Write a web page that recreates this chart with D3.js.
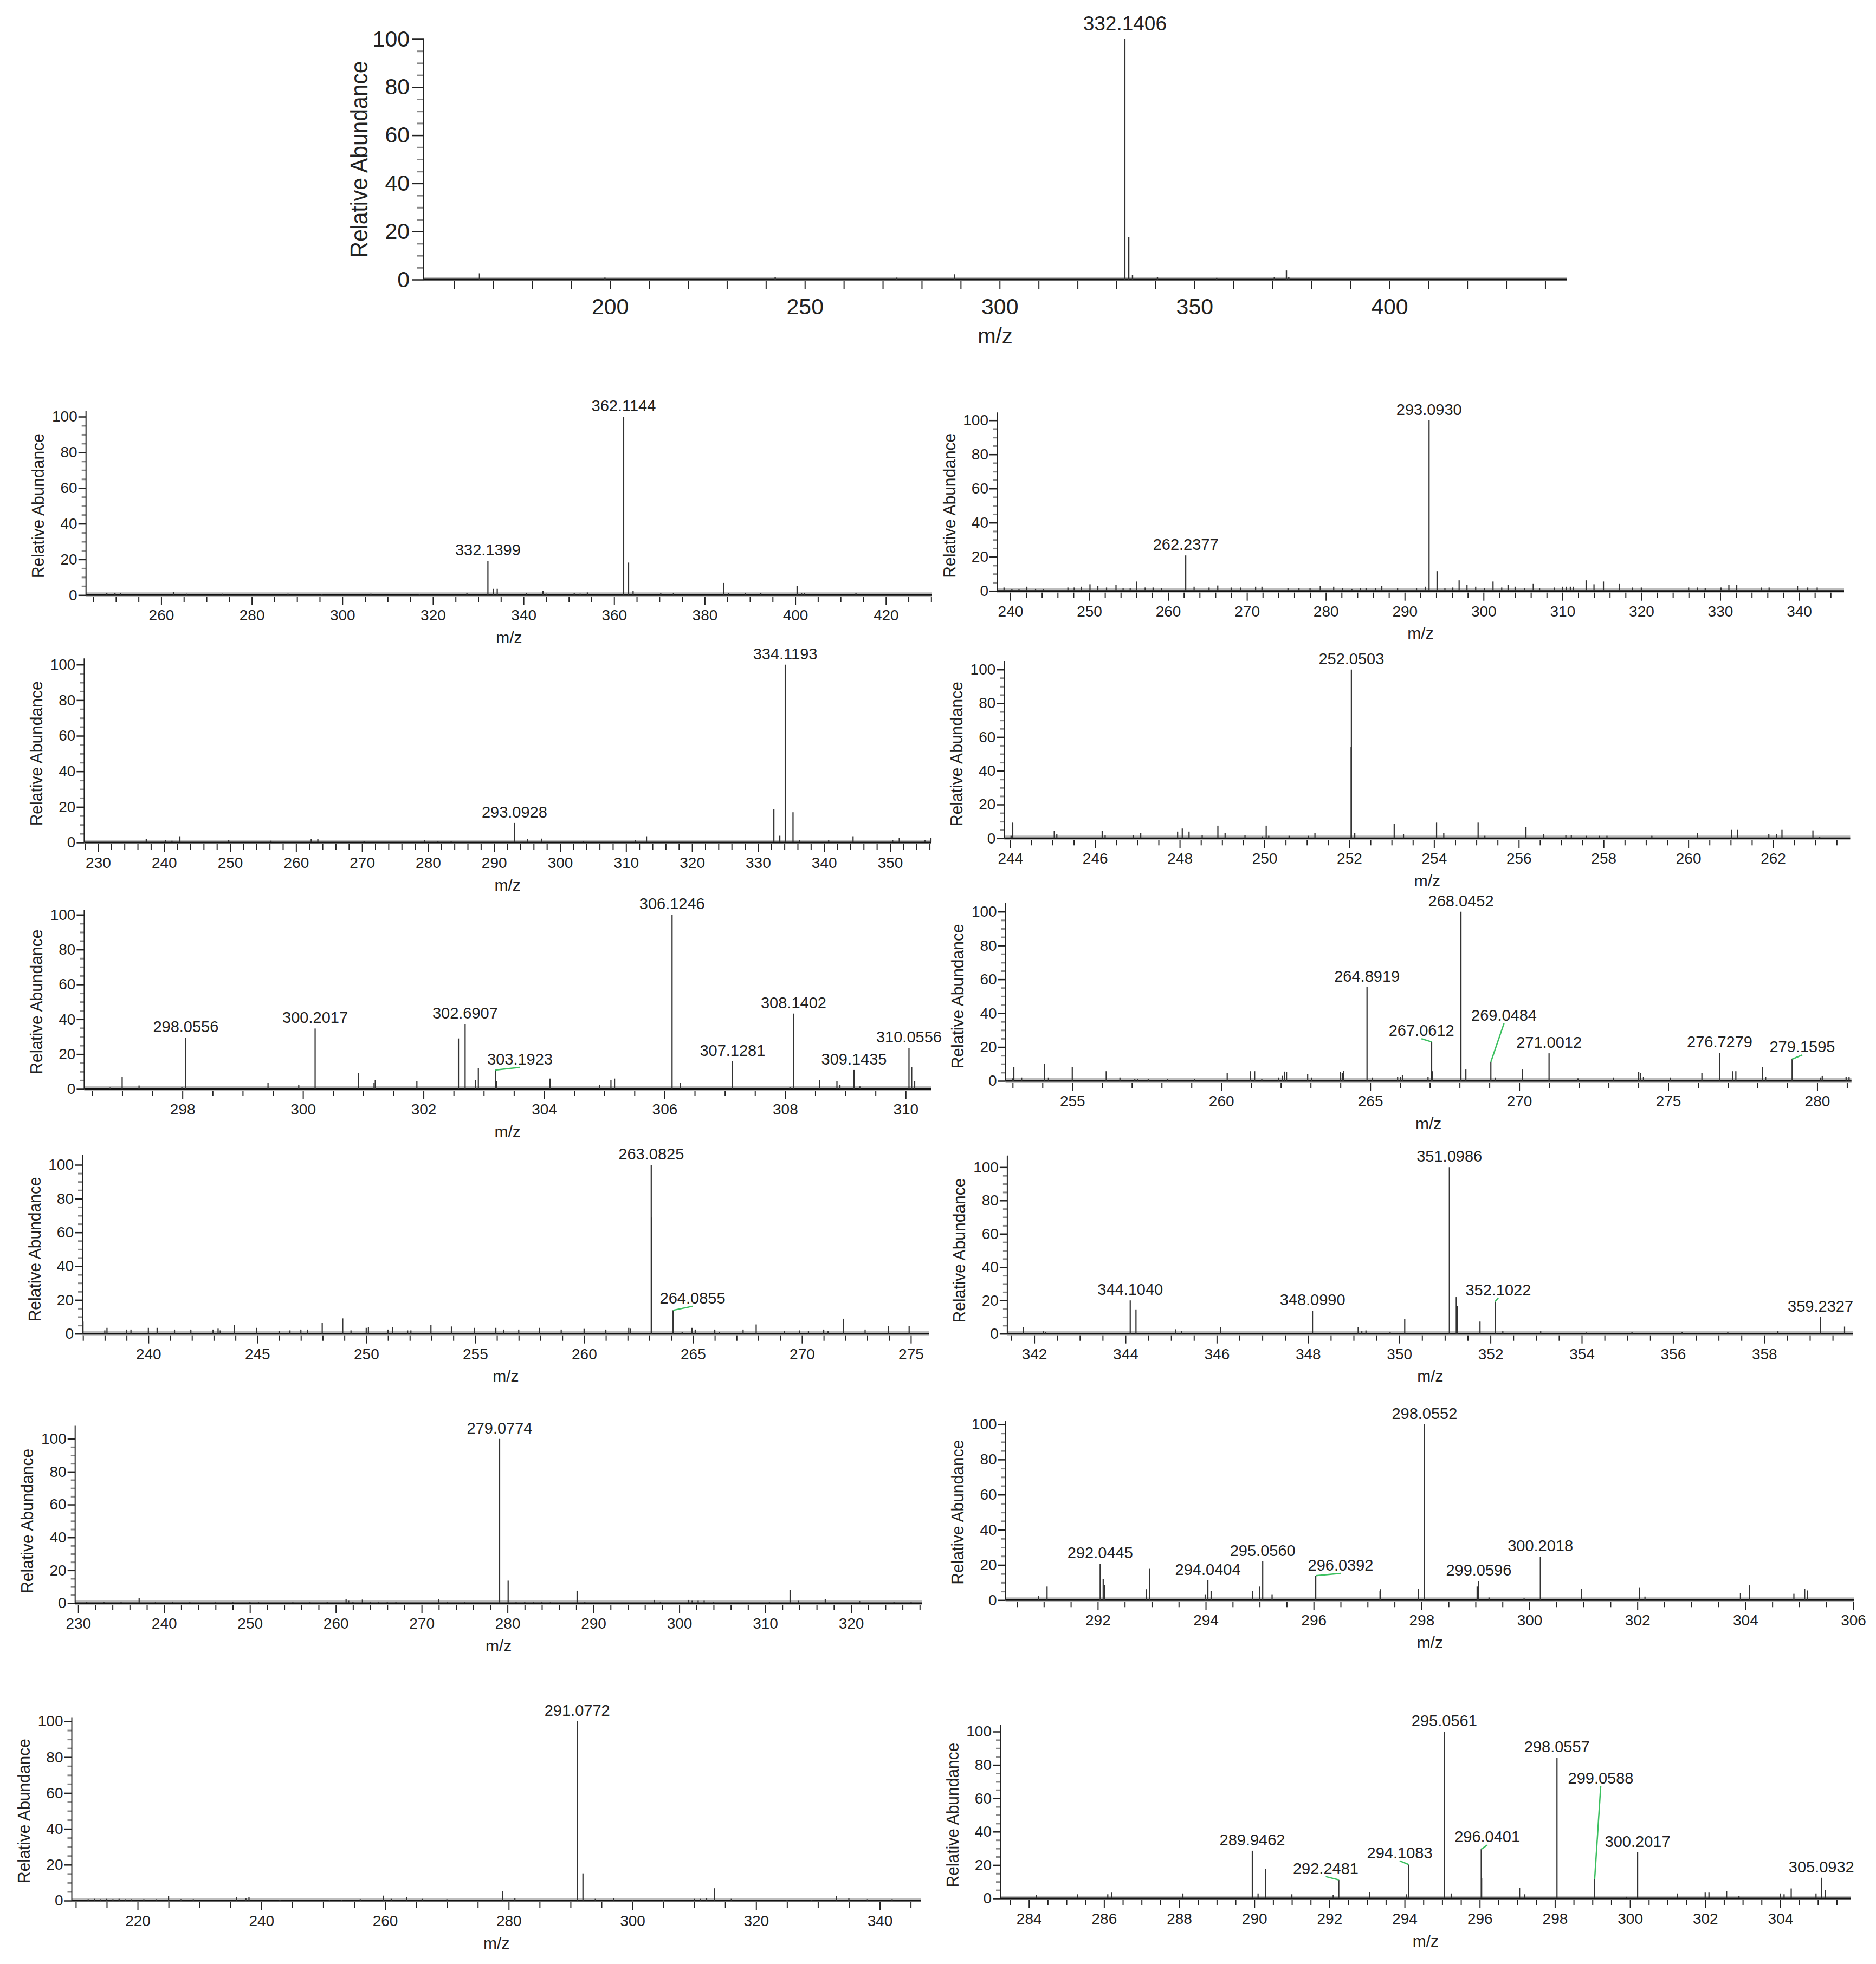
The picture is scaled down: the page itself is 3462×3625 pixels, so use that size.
<!DOCTYPE html>
<html>
<head>
<meta charset="utf-8">
<script src="https://cdn.jsdelivr.net/npm/d3@7"></script>
<style>
body { margin: 0; background: #fff; }
svg text { font-family: "Liberation Sans", Arial, sans-serif; fill: #222; }
</style>
</head>
<body>
<div id="container"></div>
<script>
// peak lists: [m/z, relative abundance]
const peaksA = [[166.5,2.6],[198.7,0.8],[242.4,1],[273.6,0.8],[288.4,2.2],[332.1406,100],[333.14,17.7],[334.1,1.9],[340.5,1],[355.7,0.7],[370.5,1],[373.6,3.8],[374.2,1]];
const peaksB = [[248.0,1],[249.8,1.3],[251.0,1],[262.7,1.7],[265.6,0.8],[273.5,0.8],[288.0,0.8],[295.5,0.6],[306.3,0.8],[317,0.6],[327.5,1],[332.1399,19.2],[333.3,3.5],[334.2,3.5],[340.6,1.3],[344.3,2.5],[345,0.8],[351.2,1],[352.5,0.8],[354.1,1.5],[362.1144,100],[363.2,18.2],[364.2,2.5],[370.3,1],[373.1,1],[384.2,6.8],[385.3,1],[389,1],[392.4,1],[400.4,5.1],[401.4,1.2],[402,1],[413.4,1]];
const peaksC = [[239.2,2],[240.2,1],[241.1,1],[242.1,2.5],[243.2,1.2],[244.2,1],[247.3,2],[248.1,2],[249,2.5],[250.1,3.9],[251.1,3],[252.2,2],[253.4,3.4],[254.3,1.8],[255.2,1.5],[256,5.5],[257.1,2],[258.1,2],[259.2,1.5],[262.2377,20.8],[263.3,2.5],[265.2,2],[266.3,3.2],[268,2],[269.2,2],[271.1,2.5],[271.9,2.5],[275.2,1.5],[276.6,1.8],[278,1.8],[279.3,3],[281,2.5],[282.1,1.5],[283.3,1.2],[284.4,1.8],[285.1,1.8],[286.3,1.5],[287.1,3],[289.1,1.5],[291.5,1.5],[292.6,2.5],[293.093,100],[294.1,11.6],[295.1,1.5],[296.1,2],[296.9,6.2],[297.9,3.6],[299,2.5],[300.1,1.5],[301.2,5.5],[302.3,2],[303.1,3.6],[304,2.5],[305.2,1.5],[306.3,4.4],[307.1,1.5],[309,2],[310,2.5],[310.5,2.5],[311,2.5],[311.4,2.5],[313,6.2],[314,3.9],[315.2,5.5],[317.2,4.4],[318.9,2],[320,2],[326,2],[327.1,2],[328.1,1.5],[330.1,2],[331.1,3.6],[332.1,3.6],[335.2,2],[336.2,2],[339.8,3],[341.1,2],[342.3,2]];
const peaksD = [[237.3,2],[240.2,1.5],[241.2,1],[242.4,3.5],[249.8,1.5],[256.2,1],[262.3,2],[263.3,2],[270.3,0.8],[279.5,1.5],[281.5,0.8],[283.5,0.8],[293.0928,11],[295.1,2],[297.2,2.2],[303.5,0.8],[311.4,1.5],[313.1,3.5],[332.4,18.6],[333.3,3.8],[334.1193,100],[335.3,17],[336.3,1.5],[340.7,1.5],[344.4,3.5],[350.4,1.5],[351.4,2.5],[355.3,1.2],[356.2,2.5]];
const peaksE = [[244.02,1.5],[244.06,9.3],[245.04,4.5],[245.1,2.5],[246.17,4.5],[246.24,2],[246.9,2],[247.08,3.1],[247.95,4],[248.06,5.8],[248.22,4],[248.53,2],[248.9,7.5],[249.07,3],[249.54,2],[249.95,1.2],[250.04,7.5],[250.1,1.5],[250.58,1.5],[251.03,1.5],[251.19,3.1],[252.045,54],[252.0503,100],[252.13,3],[253.06,8.6],[253.28,2.4],[254.06,9.3],[254.23,3],[255.04,9.3],[255.2,1.5],[256.17,6.6],[256.59,2.5],[257.11,2],[257.24,2],[257.6,1.5],[257.9,1.5],[258.08,1.5],[259.14,1.5],[260.22,3.1],[261.02,5],[261.16,5],[261.9,2.5],[262.08,2.5],[262.21,5],[262.94,4.7],[263.1,1]];
const peaksF = [[296.8,0.8],[297.0,7],[297.28,2],[297.99,1],[298.0556,29.5],[299.42,3.6],[299.93,2.5],[300.2017,34.7],[300.92,9.3],[301.18,3.5],[301.2,5],[301.89,4.4],[302.58,29],[302.6907,37.3],[302.86,5],[302.91,12],[303.1923,10.9],[303.21,4.5],[304.1,6],[304.92,2.5],[305.11,5],[305.17,6],[306.1246,100],[306.26,3.5],[307.1281,16],[308.08,1],[308.1402,43.3],[308.57,5],[308.86,4.4],[308.91,2.5],[309.1435,10.9],[309.24,1.5],[310.0556,23.6],[310.1,12.6],[310.15,4.5]];
const peaksG = [[253.0,1.5],[253.04,8.2],[253.3,2],[254.06,10.1],[254.2,2],[255.0,8.2],[256.14,5.7],[256.6,2],[257.1,1],[257.2,1],[257.55,1],[258.2,1],[259.1,1],[260.2,4.8],[260.98,5.7],[261.12,5.7],[261.36,1],[261.93,2],[262.05,3],[262.12,5.5],[262.19,5.3],[262.9,4],[263.04,2],[264.0,5.3],[264.06,4.5],[264.1,5.9],[264.8919,55.5],[265.07,2],[265.92,2.5],[266.02,2.5],[266.08,3.2],[266.94,2.5],[267.0612,23],[267.08,5.7],[268.0452,100],[268.21,6.7],[269.0484,11.2],[269.2,2],[270.11,6.7],[271.0012,16.3],[271.97,1.5],[273.17,2],[274.01,5.3],[274.07,4.5],[274.17,2.5],[275.07,2],[276.13,4.8],[276.7279,16.5],[277.17,5.7],[277.27,5.7],[278.17,8.2],[278.27,2.5],[279.1595,12.8],[280.12,2],[280.17,2.9],[280.97,2.5],[281.07,2.5]];
const peaksH = [[237.0,7.2],[238.0,2],[238.1,3.5],[239.0,2.5],[239.2,2.5],[240.0,3.5],[240.4,3.5],[241.2,2.5],[241.95,2.5],[242.97,2.5],[243.2,3],[243.3,2],[243.95,5.3],[244.97,3.5],[246.0,1.5],[246.5,2],[247.0,2.5],[247.3,2.5],[247.98,6.4],[248.92,9.1],[249.3,2],[250.0,3.5],[250.1,4],[251.0,2.5],[251.2,4],[251.9,2],[252.05,2],[252.97,5.3],[253.91,4.3],[254.96,3.5],[255.95,3.5],[256.3,2.5],[257.0,2.5],[257.95,3.5],[258.95,2.5],[260.0,2.9],[261.0,2.5],[262.05,3.5],[262.13,3],[263.0825,100],[263.1,68.8],[264.0855,13.9],[264.5,1],[264.95,3.5],[265.1,2.5],[266.0,2.5],[266.2,1],[267.3,2.5],[267.9,5.5],[269.2,1.5],[269.9,2],[270.3,1.5],[271.0,2.5],[271.2,1.5],[271.9,8.9],[272.9,2.5],[273.98,4.5],[274.92,4.5]];
const peaksI = [[341.76,3.8],[342.2,1.5],[342.25,1],[344.104,20],[344.23,14.6],[345.1,2.7],[345.23,1.8],[346.08,4.1],[348.099,13.8],[349.1,3.8],[349.18,1.5],[349.27,2],[349.8,1],[350.12,9],[351.0986,100],[351.25,22],[351.27,16.6],[351.77,7.3],[352.1022,19.3],[352.27,1.5],[353.1,1.5],[354.1,0.8],[355.1,1],[356.2,1],[357.2,1],[358.3,1.5],[359.2327,10.1],[359.76,4.3]];
const peaksJ = [[231,0.7],[233,0.7],[235,0.7],[237.1,3],[239,0.7],[241,1],[243,0.7],[246,0.6],[248,0.7],[250,0.8],[251,0.8],[255,0.6],[257,0.6],[259,0.7],[261.2,2.5],[261.5,1.5],[262,1],[263.1,2.2],[264,1],[265,1],[266,0.8],[267,1],[272,2.3],[273,1],[275,0.7],[279.0774,100],[280.07,13.7],[281,0.8],[282,0.8],[283,0.8],[284,0.8],[285,0.8],[288.1,7.6],[289,1],[297.1,2],[297.8,1],[301.1,2],[301.5,1.5],[302.2,1.5],[302.9,1.5],[304,0.8],[310.5,0.8],[312.9,8.2],[313.9,1.5],[317,2.3],[321,1.3],[325,0.7],[327,0.7]];
const peaksK = [[290.9,2.5],[291.06,7.7],[292.0445,20.6],[292.1,12.1],[292.13,8.7],[292.9,6.2],[292.96,17.8],[293.99,3],[294.0404,11.3],[294.1,5.1],[294.87,5.1],[295.0,7.7],[295.056,22.1],[295.23,3],[296.03,8.7],[296.0392,13.9],[297.23,5],[297.24,6.2],[297.94,6.4],[298.0552,100],[299.03,7.7],[299.0596,10.8],[299.25,1.5],[299.9,1],[300.2018,24.7],[300.96,6.4],[302.04,7],[302.14,2],[303.91,4.1],[304.08,8.4],[304.9,3.6],[305.1,6.4],[305.15,5.5]];
const peaksL = [[212,0.8],[213,1],[214,0.8],[215,1],[216,0.8],[217,1],[218,0.8],[219,0.8],[221,0.8],[223,0.8],[225,2.6],[227,0.8],[229,0.8],[236,2],[237.5,1.2],[238,2],[243,0.6],[251,0.6],[253,0.6],[256,0.8],[259.7,2.8],[261,1],[263.5,2],[266,1],[270,0.8],[279,5.3],[281,1.5],[291.0772,100],[292,15.2],[294,1],[297,1.5],[300,0.6],[305,0.6],[310,1],[311,1],[312,1.5],[313.3,6.9],[316,1],[325,0.6],[329,0.6],[333,2.6],[335,1.2],[338,0.8],[342,0.8]];
const peaksM = [[284.2,2],[285.3,2.5],[286.1,2.5],[286.2,3.5],[288.1,3],[289.9462,28.6],[290.1,3],[290.3,17.6],[291,2.5],[292.1,2],[292.2481,11.1],[293.07,3.8],[294.05,2.5],[294.1083,20.3],[295.0561,100],[295.06,52],[295.24,3],[296.0401,29.5],[296.05,12.2],[297.06,6.3],[297.2,2.5],[298.0557,84.4],[299.0588,11.7],[299.9,1],[300.2017,27.7],[301.26,3],[302.0,3.5],[302.1,3.5],[302.57,4.5],[302.9,1.5],[304.0,3],[304.1,2.5],[304.29,6],[304.95,3],[305.0932,12.4],[305.2,5]];

// peak labels: [m/z, abundance, text, label m/z, label abundance] (last two only where a leader is drawn)
const labelsA = [[332.1406,100,"332.1406"]];
const labelsB = [[362.1144,100,"362.1144"],[332.1399,19.2,"332.1399"]];
const labelsC = [[293.0930,100,"293.0930"],[262.2377,20.8,"262.2377"]];
const labelsD = [[334.1193,100,"334.1193"],[293.0928,11,"293.0928"]];
const labelsE = [[252.0503,100,"252.0503"]];
const labelsF = [[306.1246,100,"306.1246"],[298.0556,29.5,"298.0556"],[300.2017,34.7,"300.2017"],[302.6907,37.3,"302.6907"],[303.1923,10.9,"303.1923",303.6,12.4],[307.1281,16,"307.1281"],[308.1402,43.3,"308.1402"],[309.1435,10.9,"309.1435"],[310.0556,23.6,"310.0556"]];
const labelsG = [[268.0452,100,"268.0452"],[264.8919,55.5,"264.8919"],[267.0612,23,"267.0612",266.72,24.9],[269.0484,11.2,"269.0484",269.49,34],[271.0012,16.3,"271.0012"],[276.7279,16.5,"276.7279"],[279.1595,12.8,"279.1595",279.5,15.3]];
const labelsH = [[263.0825,100,"263.0825"],[264.0855,13.9,"264.0855",264.98,16.3]];
const labelsI = [[351.0986,100,"351.0986"],[344.1040,20,"344.1040"],[348.0990,13.8,"348.0990"],[352.1022,19.3,"352.1022",352.17,21.5],[359.2327,10.1,"359.2327"]];
const labelsJ = [[279.0774,100,"279.0774"]];
const labelsK = [[298.0552,100,"298.0552"],[292.0445,20.6,"292.0445"],[294.0404,11.3,"294.0404"],[295.0560,22.1,"295.0560"],[296.0392,13.9,"296.0392",296.5,15.2],[299.0596,10.8,"299.0596"],[300.2018,24.7,"300.2018"]];
const labelsL = [[291.0772,100,"291.0772"]];
const labelsM = [[295.0561,100,"295.0561"],[298.0557,84.4,"298.0557"],[289.9462,28.6,"289.9462"],[292.2481,11.1,"292.2481",291.9,13.1],[294.1083,20.3,"294.1083",293.87,22.5],[296.0401,29.5,"296.0401",296.2,32],[299.0588,11.7,"299.0588",299.22,67.3],[300.2017,27.7,"300.2017"],[305.0932,12.4,"305.0932"]];

const yTicks = [0,20,40,60,80,100];

// panel layout (pixels) and axis ranges
const panels = [
  {peaks:peaksA, labels:labelsA, domain:[152.2,445.5], xr:[782,2891], yr:[516,72], yTop:100, minor:10, major:50, big:true},
  {peaks:peaksB, labels:labelsB, domain:[243.4,430.2], xr:[158.7,1720], yr:[1098.3,769], yTop:103, minor:5, major:20},
  {peaks:peaksC, labels:labelsC, domain:[238.32,345.7], xr:[1840,3403], yr:[1090.7,775.7], yTop:104.6, minor:2, major:10},
  {peaks:peaksD, labels:labelsD, domain:[227.9,356.2], xr:[155.4,1718], yr:[1555,1226.7], yTop:103.5, minor:2, major:10},
  {peaks:peaksE, labels:labelsE, domain:[243.86,263.82], xr:[1853.3,3414.4], yr:[1547.3,1235.7], yTop:105, minor:0.5, major:2},
  {peaks:peaksF, labels:labelsF, domain:[296.37,310.42], xr:[155.4,1718], yr:[2010,1688.3], yTop:102.6, minor:0.5, major:2},
  {peaks:peaksG, labels:labelsG, domain:[252.76,281.15], xr:[1855.6,3416.7], yr:[1995,1682.7], yTop:105, minor:1, major:5},
  {peaks:peaksH, labels:labelsH, domain:[236.97,275.84], xr:[152,1714.7], yr:[2461.7,2150], yTop:106, minor:1, major:5},
  {peaks:peaksI, labels:labelsI, domain:[341.41,359.95], xr:[1858.9,3420], yr:[2461.7,2154.3], yTop:107, minor:0.5, major:2},
  {peaks:peaksJ, labels:labelsJ, domain:[229.65,328.26], xr:[138.7,1701.4], yr:[2959,2655.7], yTop:108, minor:2, major:10},
  {peaks:peaksK, labels:labelsK, domain:[290.29,306.02], xr:[1855.6,3422], yr:[2953.3,2629], yTop:102, minor:0.5, major:2},
  {peaks:peaksL, labels:labelsL, domain:[209.35,346.7], xr:[132.5,1700], yr:[3508,3177], yTop:102, minor:5, major:20},
  {peaks:peaksM, labels:labelsM, domain:[283.24,305.88], xr:[1846,3415.8], yr:[3504,3196], yTop:104, minor:0.5, major:2}
];

let svg = d3.select("#container")
  .append("svg")
  .attr("width", 3462)
  .attr("height", 3625);

svg.append("rect").attr("width", 3462).attr("height", 3625).attr("fill", "#fff");

panels.forEach(p => drawPanel(p));

function drawPanel(p) {
  let big = !!p.big;
  let x = d3.scaleLinear().domain(p.domain).range(p.xr);
  let y = d3.scaleLinear().domain([0, 100]).range(p.yr);
  let g = svg.append("g");
  let fs = big ? 41 : 28;

  //x ticks
  let all = d3.range(Math.ceil(p.domain[0] / p.minor) * p.minor, p.domain[1], p.minor);
  let majors = all.filter(v => v % p.major === 0);
  let minors = all.filter(v => v % p.major !== 0);

  let xMinor = g.append("g")
    .attr("transform", `translate(0,${y(0)})`)
    .call(d3.axisBottom(x).tickValues(minors).tickSize(big ? 18 : 13).tickFormat("").tickSizeOuter(0));
  let xMajor = g.append("g")
    .attr("transform", `translate(0,${y(0)})`)
    .call(d3.axisBottom(x).tickValues(majors).tickSize(18).tickPadding(big ? 17 : 9).tickSizeOuter(0));
  [xMinor, xMajor].forEach(a => {
    a.select(".domain").remove();
    a.selectAll(".tick line").attr("stroke", "#222").attr("stroke-width", 2);
  });
  xMajor.selectAll(".tick text").attr("font-size", fs).attr("font-family", null).attr("fill", "#222");

  //baseline
  g.append("line")
    .attr("x1", p.xr[0]).attr("x2", p.xr[1])
    .attr("y1", y(0) - 1).attr("y2", y(0) - 1)
    .attr("stroke", "#bdbdbd").attr("stroke-width", 8);
  g.append("line")
    .attr("x1", p.xr[0]).attr("x2", p.xr[1])
    .attr("y1", y(0)).attr("y2", y(0))
    .attr("stroke", "#111").attr("stroke-width", 3);

  //y axis
  let yMinor = g.append("g")
    .attr("transform", `translate(${p.xr[0]},0)`)
    .call(d3.axisLeft(y).tickValues(d3.range(0, 101, 5).filter(v => v % 20 !== 0)).tickSize(big ? 12 : 8).tickFormat("").tickSizeOuter(0));
  yMinor.select(".domain").remove();
  yMinor.selectAll(".tick line").attr("stroke", "#888").attr("stroke-width", 3);

  let yMajor = g.append("g")
    .attr("transform", `translate(${p.xr[0]},0)`)
    .call(d3.axisLeft(y).tickValues(yTicks).tickSize(big ? 22 : 14).tickPadding(big ? 4 : 2).tickSizeOuter(0));
  yMajor.select(".domain").remove();
  yMajor.selectAll(".tick line").attr("stroke", "#222").attr("stroke-width", 2.5);
  yMajor.selectAll(".tick text").attr("font-size", fs).attr("font-family", null).attr("fill", "#222");

  g.append("line")
    .attr("x1", p.xr[0]).attr("x2", p.xr[0])
    .attr("y1", y(0)).attr("y2", y(p.yTop))
    .attr("stroke", "#222").attr("stroke-width", 2);

  //peaks
  g.selectAll("line.peak")
    .data(p.peaks)
    .enter()
    .append("line")
    .attr("class", "peak")
    .attr("x1", d => x(d[0]))
    .attr("x2", d => x(d[0]))
    .attr("y1", y(0))
    .attr("y2", d => y(d[1]))
    .attr("stroke", "#333")
    .attr("stroke-width", big ? 2.4 : 2.2);

  //leaders
  let withLeader = p.labels.filter(d => d.length > 3);
  g.selectAll("line.leader")
    .data(withLeader)
    .enter()
    .append("line")
    .attr("class", "leader")
    .attr("x1", d => x(d[3]))
    .attr("y1", d => y(d[4]))
    .attr("x2", d => x(d[0]))
    .attr("y2", d => y(d[1]))
    .attr("stroke", "#3cc060")
    .attr("stroke-width", 2.5);

  //peak labels
  g.selectAll("text.peaklabel")
    .data(p.labels)
    .enter()
    .append("text")
    .attr("class", "peaklabel")
    .attr("x", d => x(d.length > 3 ? d[3] : d[0]))
    .attr("y", d => y(d.length > 3 ? d[4] : d[1]) - (big ? 16 : (d.length > 3 ? 5 : 10)))
    .attr("text-anchor", "middle")
    .attr("font-size", big ? 37 : 29)
    .text(d => d[2]);

  //axis titles
  let midX = (p.xr[0] + p.xr[1]) / 2;
  g.append("text")
    .attr("x", midX)
    .attr("y", y(0) + (big ? 104 : 78))
    .attr("dominant-baseline", "central")
    .attr("text-anchor", "middle")
    .attr("font-size", big ? 40 : 30)
    .text("m/z");

  let midY = (y(0) + y(100)) / 2;
  let tx = p.xr[0] - (big ? 120 : 88);
  g.append("text")
    .attr("transform", `translate(${tx},${midY}) rotate(-90)`)
    .attr("text-anchor", "middle")
    .attr("dominant-baseline", "central")
    .attr("font-size", big ? 44 : 31)
    .attr("textLength", big ? 363 : 267)
    .attr("lengthAdjust", "spacingAndGlyphs")
    .text("Relative Abundance");
}
</script>
</body>
</html>
